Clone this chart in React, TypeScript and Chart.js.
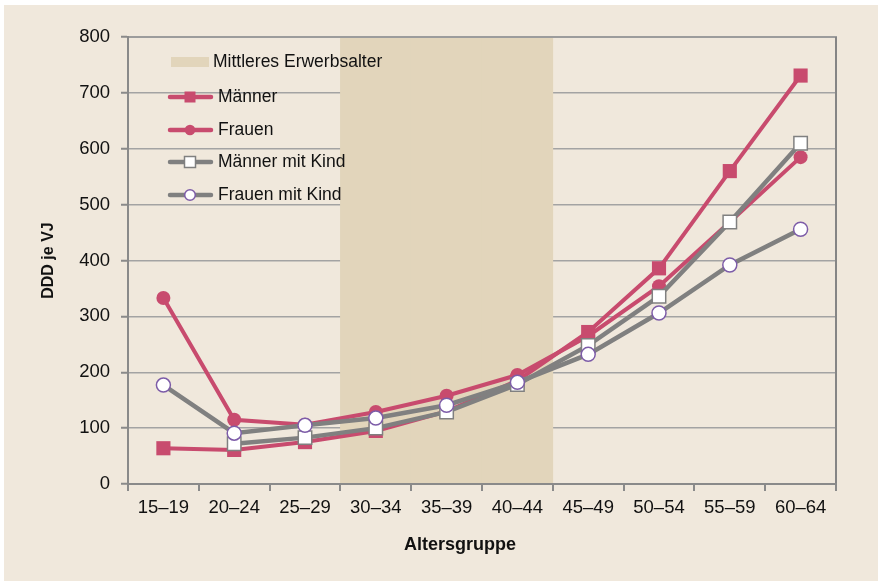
import React, { useEffect, useRef } from "react";
import { Chart, registerables } from "chart.js";

Chart.register(...registerables);

// ---- data ----
const categories = ["15–19", "20–24", "25–29", "30–34", "35–39", "40–44", "45–49", "50–54", "55–59", "60–64"];
const maenner = [64, 61, 75, 95, 130, 185, 272, 386, 560, 731];
const frauen = [333, 115, 106, 129, 158, 195, 265, 354, 469, 585];
const maennerMitKind = [null, 72, 83, 100, 129, 178, 248, 336, 469, 610];
const frauenMitKind = [177, 91, 105, 118, 141, 182, 232, 306, 392, 456];
const erwerbsalter = [null, null, null, 800, 800, 800, null, null, null, null];
const yTicks = [0, 100, 200, 300, 400, 500, 600, 700, 800];

const yTitle = "DDD je VJ";
const xTitle = "Altersgruppe";

const RED = "#c84b6e";
const GRAY = "#808080";
const PURPLE = "#7d5ca8";
const SHADE = "#e2d5bb";
const BG = "#f0e8dc";
const FONT = "'Liberation Sans', Arial, sans-serif";

const W = 874;
const H = 576;

const decorPlugin = {
  id: "decor",
  afterDatasetsDraw(chart: any) {
    const { ctx, chartArea } = chart;
    const { left, right, top, bottom } = chartArea;
    ctx.save();
    // top border
    ctx.strokeStyle = "#9c9c9c";
    ctx.lineWidth = 2;
    ctx.beginPath();
    ctx.moveTo(left, top);
    ctx.lineTo(right + 1, top);
    ctx.stroke();
    // right border
    ctx.strokeStyle = "#858585";
    ctx.beginPath();
    ctx.moveTo(right, top);
    ctx.lineTo(right, bottom);
    ctx.stroke();

    // axis titles
    ctx.fillStyle = "#111";
    ctx.font = `bold 16px ${FONT}`;
    ctx.textAlign = "center";
    ctx.textBaseline = "middle";
    ctx.save();
    ctx.translate(45, (top + bottom) / 2);
    ctx.rotate(-Math.PI / 2);
    ctx.fillText(yTitle, 0, 0);
    ctx.restore();
    ctx.font = `bold 18px ${FONT}`;
    ctx.textBaseline = "alphabetic";
    ctx.fillText(xTitle, 456, 545);

    // legend
    const ds = chart.data.datasets;
    const rows = [57, 92, 125, 157, 190];
    const order = [4, 0, 1, 2, 3];
    ctx.font = `17.5px ${FONT}`;
    ctx.textAlign = "left";
    ctx.textBaseline = "middle";
    order.forEach((di: number, i: number) => {
      const d = ds[di];
      const y = rows[i];
      if (d.type === "bar") {
        ctx.fillStyle = d.backgroundColor;
        ctx.fillRect(167, y - 5, 38, 10);
        ctx.fillStyle = "#111";
        ctx.fillText(d.label, 209, y);
        return;
      }
      ctx.strokeStyle = d.borderColor;
      ctx.lineWidth = 4.5;
      ctx.lineCap = "round";
      ctx.beginPath();
      ctx.moveTo(166, y);
      ctx.lineTo(207, y);
      ctx.stroke();
      const bw = d.pointBorderWidth || 0;
      ctx.fillStyle = d.pointBackgroundColor;
      ctx.strokeStyle = d.pointBorderColor;
      ctx.lineWidth = bw || 1;
      ctx.beginPath();
      if (d.pointStyle === "rect") {
        ctx.rect(186 - 5.5, y - 5.5, 11, 11);
      } else {
        ctx.arc(186, y, 5.3, 0, Math.PI * 2);
      }
      ctx.fill();
      if (bw > 0) ctx.stroke();
      ctx.fillStyle = "#111";
      ctx.fillText(d.label, 214, y);
    });
    ctx.restore();
  },
};

export default function App() {
  const ref = useRef<HTMLCanvasElement>(null);

  useEffect(() => {
    if (!ref.current) return;
    Chart.defaults.font.family = FONT;
    const chart = new Chart(ref.current, {
      type: "bar",
      data: {
        labels: categories,
        datasets: [
          {
            type: "line",
            label: "Männer",
            data: maenner,
            borderColor: RED,
            borderWidth: 4,
            pointStyle: "rect",
            pointRadius: 10,
            pointBackgroundColor: RED,
            pointBorderColor: RED,
            pointBorderWidth: 0,
            order: 4,
          },
          {
            type: "line",
            label: "Frauen",
            data: frauen,
            borderColor: RED,
            borderWidth: 4,
            pointStyle: "circle",
            pointRadius: 7,
            pointBackgroundColor: RED,
            pointBorderColor: RED,
            pointBorderWidth: 0,
            order: 3,
          },
          {
            type: "line",
            label: "Männer mit Kind",
            data: maennerMitKind,
            borderColor: GRAY,
            borderWidth: 4.5,
            pointStyle: "rect",
            pointRadius: 9.5,
            pointBackgroundColor: "#ffffff",
            pointBorderColor: GRAY,
            pointBorderWidth: 1.5,
            order: 2,
          },
          {
            type: "line",
            label: "Frauen mit Kind",
            data: frauenMitKind,
            borderColor: GRAY,
            borderWidth: 4.5,
            pointStyle: "circle",
            pointRadius: 7,
            pointBackgroundColor: "#ffffff",
            pointBorderColor: PURPLE,
            pointBorderWidth: 1.5,
            order: 1,
          },
          {
            type: "bar",
            label: "Mittleres Erwerbsalter",
            data: erwerbsalter,
            backgroundColor: SHADE,
            borderWidth: 0,
            barPercentage: 1,
            categoryPercentage: 1,
            order: 10,
          },
        ] as any,
      },
      options: {
        animation: false,
        responsive: false,
        devicePixelRatio: 1,
        layout: { padding: { top: 32, right: 42, left: 0, bottom: 0 } },
        plugins: {
          legend: { display: false },
          tooltip: { enabled: false },
        },
        scales: {
          x: {
            type: "category",
            offset: true,
            grid: {
              offset: true,
              drawOnChartArea: false,
              drawTicks: true,
              tickLength: 7,
              color: "#8a8a8a",
              lineWidth: 2,
            },
            border: { color: "#8a8a8a", width: 2, z: 1 },
            ticks: {
              color: "#111",
              font: { size: 18.5, family: FONT },
              padding: 6,
              maxRotation: 0,
              autoSkip: false,
            },
            afterFit(scale: any) {
              scale.height = 97;
            },
          },
          y: {
            min: 0,
            max: 800,
            afterBuildTicks(scale: any) {
              scale.ticks = yTicks.map((v) => ({ value: v }));
            },
            grid: {
              color: "#a3a3a3",
              lineWidth: 1.5,
              tickLength: 7,
              tickColor: "#8a8a8a",
              tickWidth: 2,
            },
            border: { color: "#8a8a8a", width: 2, z: 1 },
            ticks: {
              color: "#111",
              font: { size: 18.5, family: FONT },
              padding: 11,
            },
            afterFit(scale: any) {
              scale.width = 124;
            },
          },
        },
      } as any,
      plugins: [decorPlugin],
    });
    return () => chart.destroy();
  }, []);

  return (
    <div style={{ position: "fixed", left: 0, top: 0, width: 881, height: 581, background: "#ffffff" }}>
      <div style={{ position: "absolute", left: 4, top: 5, width: W, height: H, background: BG }}>
        <canvas ref={ref} width={W} height={H} style={{ width: W, height: H, display: "block" }} />
      </div>
    </div>
  );
}
